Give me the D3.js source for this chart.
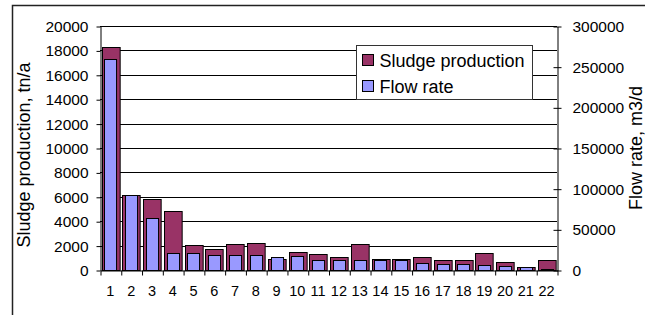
<!DOCTYPE html>
<html>
<head>
<meta charset="utf-8">
<script src="https://cdn.jsdelivr.net/npm/d3@7"></script>
<style>
  body { margin: 0; background: #fff; }
  svg { display: block; font-family: "Liberation Sans", Arial, sans-serif; }
</style>
</head>
<body>
<div id="chart"></div>
<script>
const width = 645;
const height = 315;

// values
const categories = ["1","2","3","4","5","6","7","8","9","10","11","12","13","14","15","16","17","18","19","20","21","22"];
const sludge = [18300, 6150, 5850, 4850, 2070, 1740, 2170, 2250, 920, 1460, 1350, 1100, 2110, 920, 920, 1100, 840, 780, 1380, 640, 260, 800];
const flow = [259000, 92000, 64000, 20300, 20300, 18700, 18700, 18700, 16200, 16600, 12500, 12500, 12500, 12900, 12000, 8400, 7600, 7600, 6400, 4700, 3900, 1800];
const leftTicks = [0, 2000, 4000, 6000, 8000, 10000, 12000, 14000, 16000, 18000, 20000];
const rightTicks = [0, 50000, 100000, 150000, 200000, 250000, 300000];
const seriesNames = ["Sludge production", "Flow rate"];
const seriesColors = ["#993366", "#9999ff"];

const plot = {left: 100, right: 557, top: 26, bottom: 270};

const svg = d3.select("#chart")
  .append("svg")
    .attr("width", width)
    .attr("height", height);

// outer frame (runs off the right and bottom edges)
svg.append("path")
    .attr("d", `M12.5,${height + 5} V5.5 H${width + 5}`)
    .attr("fill", "none")
    .attr("stroke", "#222")
    .attr("stroke-width", 1.5);

const xS = d3.scaleBand()
    .domain(categories)
    .range([plot.left, plot.right])
    .paddingInner(0.15)
    .paddingOuter(0.075);

const xF = d3.scaleBand()
    .domain(categories)
    .range([plot.left, plot.right])
    .paddingInner(0.42)
    .paddingOuter(0.21);

const xi = d3.scaleLinear()
    .domain([0, categories.length])
    .range([plot.left, plot.right]);

const yL = d3.scaleLinear()
    .domain([0, 20000])
    .range([plot.bottom, plot.top]);

const yR = d3.scaleLinear()
    .domain([0, 300000])
    .range([plot.bottom, plot.top]);

// gridlines
svg.append("g")
  .selectAll("line")
  .data(leftTicks.slice(1))
  .join("line")
    .attr("x1", plot.left)
    .attr("x2", plot.right)
    .attr("y1", d => Math.round(yL(d)) + 0.5)
    .attr("y2", d => Math.round(yL(d)) + 0.5)
    .attr("stroke", "#000");

// sludge bars (primary axis)
svg.append("g")
  .selectAll("rect")
  .data(sludge)
  .join("rect")
    .attr("x", (d, i) => Math.round(xS(categories[i])) + 0.5)
    .attr("y", d => Math.round(yL(d)) + 0.5)
    .attr("width", xS.bandwidth())
    .attr("height", d => plot.bottom - Math.round(yL(d)))
    .attr("fill", seriesColors[0])
    .attr("stroke", "#000");

// flow rate bars (secondary axis), drawn on top
svg.append("g")
  .selectAll("rect")
  .data(flow)
  .join("rect")
    .attr("x", (d, i) => Math.round(xF(categories[i])) + 0.5)
    .attr("y", d => Math.round(yR(d)) + 0.5)
    .attr("width", xF.bandwidth())
    .attr("height", d => plot.bottom - Math.round(yR(d)))
    .attr("fill", seriesColors[1])
    .attr("stroke", "#000");

// left axis
const gl = svg.append("g")
    .attr("transform", `translate(${plot.left + 0.5},0.5)`)
    .call(d3.axisLeft(yL).tickValues(leftTicks).tickFormat(d3.format("d"))
      .tickSize(4).tickSizeOuter(0).tickPadding(8));

// right axis, ticks cross the line
const gr = svg.append("g")
    .attr("transform", `translate(${plot.right + 0.5},0.5)`)
    .call(d3.axisRight(yR).tickValues(rightTicks).tickFormat(d3.format("d"))
      .tickSize(4).tickSizeOuter(0).tickPadding(11));
gr.selectAll(".tick line").attr("x1", -4);

// bottom axis: boundary ticks + labels
const gb = svg.append("g")
    .attr("transform", `translate(0.5,${plot.bottom + 0.5})`)
    .call(d3.axisBottom(xi).tickValues(d3.range(0, categories.length + 1)).tickFormat("").tickSize(5).tickSizeOuter(0));
const gbl = svg.append("g")
    .attr("transform", `translate(0,${plot.bottom})`)
    .call(d3.axisBottom(xS).tickSize(0).tickPadding(16));
gbl.select(".domain").remove();

for (const g of [gl, gr, gb, gbl]) {
  g.attr("font-family", null).attr("font-size", null);
  g.selectAll("text").style("font-size", "14.5px").attr("fill", "#000");
  g.selectAll("line, path").attr("stroke", "#000");
}
gl.selectAll("text").style("font-size", "15.5px");
gr.selectAll("text").style("font-size", "15.5px");

// axis titles
svg.append("text")
    .attr("transform", `translate(30,155) rotate(-90)`)
    .attr("text-anchor", "middle")
    .style("font-size", "18px")
    .text("Sludge production, tn/a");

svg.append("text")
    .attr("transform", `translate(642,148) rotate(-90)`)
    .attr("text-anchor", "middle")
    .style("font-size", "18px")
    .text("Flow rate, m3/d");

// legend
const legend = svg.append("g")
    .attr("transform", "translate(356.5,45.5)");
legend.append("rect")
    .attr("width", 176)
    .attr("height", 54)
    .attr("fill", "#fff")
    .attr("stroke", "#333");
const item = legend.selectAll("g.item")
  .data(seriesNames)
  .join("g")
    .attr("class", "item")
    .attr("transform", (d, i) => `translate(6,${9 + i * 26})`);
item.append("rect")
    .attr("width", 11)
    .attr("height", 11)
    .attr("fill", (d, i) => seriesColors[i])
    .attr("stroke", "#000");
item.append("text")
    .attr("x", 17)
    .attr("y", 12)
    .style("font-size", "18px")
    .text(d => d);
</script>
</body>
</html>
